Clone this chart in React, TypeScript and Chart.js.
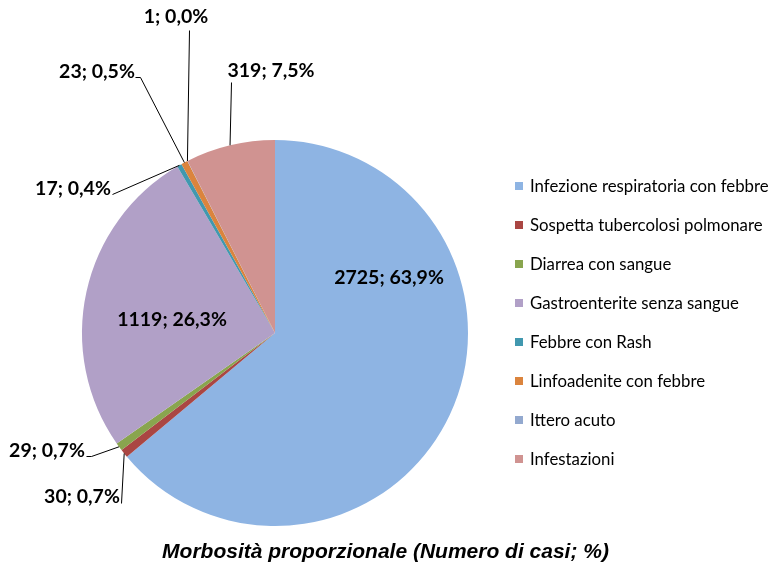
import React, { useEffect, useRef } from "react";
import { Chart, registerables } from "chart.js";

Chart.register(...registerables);

const categories = [
  "Infezione respiratoria con febbre",
  "Sospetta tubercolosi polmonare",
  "Diarrea con sangue",
  "Gastroenterite senza sangue",
  "Febbre con Rash",
  "Linfoadenite con febbre",
  "Ittero acuto",
  "Infestazioni",
];
const cases = [2725, 30, 29, 1119, 17, 23, 1, 319];
const percentLabels = ["63,9", "0,7", "0,7", "26,3", "0,4", "0,5", "0,0", "7,5"];
const sliceColors = [
  "#8EB4E3",
  "#AA4643",
  "#89A54E",
  "#B1A0C7",
  "#4198AF",
  "#DB843D",
  "#93A9CF",
  "#D09391",
];
const titleText = "Morbosità proporzionale (Numero di casi; %)";

// label layout: text centre offset from pie centre, optional leader start / bend
const labelLayout = [
  { dx: 114, dy: -55 },
  { dx: -193, dy: 164, line: [[-154, 170]] },
  { dx: -228, dy: 118, line: [[-189, 123], [-184, 123]] },
  { dx: -103, dy: -13 },
  { dx: -202, dy: -144, line: [[-163, -139]] },
  { dx: -178, dy: -261, line: [[-140, -256], [-135, -256]] },
  { dx: -99, dy: -316, line: [[-86, -303]] },
  { dx: -4, dy: -262, line: [[-44, -251]] },
];

const LABEL_FONT = "bold 19.5px Lato, 'Open Sans', sans-serif";
const LEGEND_FONT = "16.8px Lato, 'Open Sans', sans-serif";
const TITLE_FONT = "italic bold 21px 'Liberation Sans', Arial, sans-serif";

const decorPlugin = {
  id: "decor",
  afterDraw(chart: any) {
    const ctx = chart.ctx as CanvasRenderingContext2D;
    const meta = chart.getDatasetMeta(0);
    const data = chart.data.datasets[0].data as number[];
    ctx.save();
    // data labels
    meta.data.forEach((arc: any, i: number) => {
      const { x: cx, y: cy, startAngle, endAngle, outerRadius } = arc.getProps(
        ["x", "y", "startAngle", "endAngle", "outerRadius"],
        true
      );
      const mid = (startAngle + endAngle) / 2;
      const lay = labelLayout[i];
      if (lay.line) {
        const ex = cx + Math.cos(mid) * outerRadius;
        const ey = cy + Math.sin(mid) * outerRadius;
        ctx.strokeStyle = "#000";
        ctx.lineWidth = 1;
        ctx.beginPath();
        lay.line.forEach((p, k) => {
          if (k === 0) ctx.moveTo(cx + p[0] + 0.5, cy + p[1] + 0.5);
          else ctx.lineTo(cx + p[0] + 0.5, cy + p[1] + 0.5);
        });
        ctx.lineTo(ex, ey);
        ctx.stroke();
      }
      ctx.font = LABEL_FONT;
      ctx.fillStyle = "#000";
      ctx.textAlign = "center";
      ctx.textBaseline = "middle";
      ctx.fillText(`${data[i]}; ${percentLabels[i]}%`, cx + lay.dx, cy + lay.dy);
    });
    // legend
    const lx = 515;
    const ly0 = 186;
    const step = 39.0;
    ctx.font = LEGEND_FONT;
    ctx.textAlign = "left";
    ctx.textBaseline = "middle";
    (chart.data.labels as string[]).forEach((lab, i) => {
      const y = ly0 + i * step;
      ctx.fillStyle = sliceColors[i];
      ctx.fillRect(lx, y - 4, 8, 8);
      ctx.fillStyle = "#000";
      ctx.fillText(lab, lx + 15, y + 0.5);
    });
    // title
    ctx.font = TITLE_FONT;
    ctx.textAlign = "center";
    ctx.fillStyle = "#000";
    ctx.fillText(titleText, chart.width / 2, 552);
    ctx.restore();
  },
};

export default function App() {
  const ref = useRef<HTMLCanvasElement | null>(null);
  useEffect(() => {
    if (!ref.current) return;
    const chart = new Chart(ref.current, {
      type: "pie",
      data: {
        labels: categories,
        datasets: [
          {
            data: cases,
            backgroundColor: sliceColors,
            borderWidth: 0,
          },
        ],
      },
      options: {
        animation: false,
        responsive: true,
        maintainAspectRatio: false,
        layout: { padding: { left: 82, right: 303, top: 140, bottom: 41 } },
        plugins: {
          legend: { display: false },
          title: { display: false },
          tooltip: { enabled: false },
        },
      },
      plugins: [decorPlugin],
    });
    return () => chart.destroy();
  }, []);
  return (
    <div
      style={{
        position: "absolute",
        left: 0,
        top: 0,
        width: 771,
        height: 567,
        background: "#fff",
      }}
    >
      <canvas ref={ref} />
    </div>
  );
}
